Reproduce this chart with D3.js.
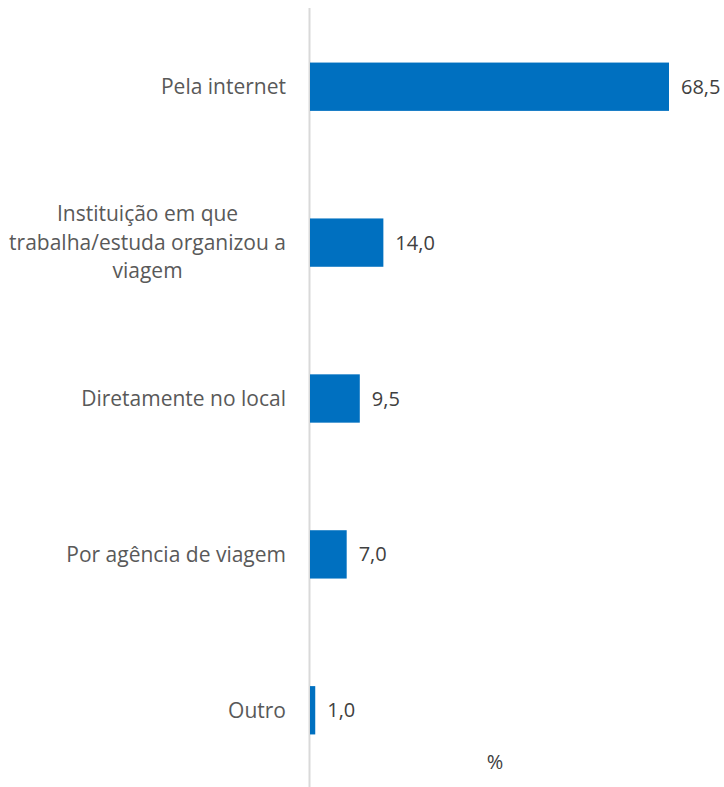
<!DOCTYPE html>
<html lang="en">
<head>
<meta charset="UTF-8">
<title>Bar chart</title>
<style>
    body { margin: 0; background: #fff; }
    .cat { font: 21px "Open Sans", sans-serif; fill: #595959; }
    .val { font: 20px "Open Sans", sans-serif; fill: #404040; }
</style>
</head>
<body>
<script src="https://d3js.org/d3.v7.min.js"></script>
<script>
const categories = [
    ["Pela internet"],
    ["Instituição em que", "trabalha/estuda organizou a", "viagem"],
    ["Diretamente no local"],
    ["Por agência de viagem"],
    ["Outro"]
];
const values = [68.5, 14.0, 9.5, 7.0, 1.0];
const unitLabel = "%";

const width = 724, height = 787;
const x0 = 310;

const svg = d3.select("body").append("svg")
    .attr("width", width)
    .attr("height", height);

const x = d3.scaleLinear()
    .domain([0, 68.5])
    .range([x0, 669]);

const y = d3.scaleBand()
    .domain(d3.range(values.length))
    .range([8, 789])
    .paddingInner(0.69)
    .paddingOuter(0.35);

// axis line
svg.append("line")
    .attr("x1", x0 - 0.5).attr("x2", x0 - 0.5)
    .attr("y1", 8).attr("y2", height)
    .attr("stroke", "#d9d9d9")
    .attr("stroke-width", 2);

svg.selectAll("rect.bar")
    .data(values)
    .join("rect")
    .attr("class", "bar")
    .attr("x", x0)
    .attr("y", (d, i) => y(i))
    .attr("width", d => x(d) - x0)
    .attr("height", y.bandwidth())
    .attr("fill", "#0070c0");

svg.selectAll("text.val")
    .data(values)
    .join("text")
    .attr("class", "val")
    .attr("x", d => x(d) + 12)
    .attr("y", (d, i) => y(i) + y.bandwidth() / 2)
    .attr("dy", "0.35em")
    .text(d => d3.format(".1f")(d).replace(".", ","));

const lineH = 28.5;
const cat = svg.selectAll("text.cat")
    .data(categories)
    .join("text")
    .attr("class", "cat")
    .attr("text-anchor", "middle")
    .attr("y", (d, i) => y(i) + y.bandwidth() / 2);

cat.each(function (lines) {
    const t = d3.select(this);
    const n = lines.length;
    lines.forEach((l, k) => {
        t.append("tspan")
            .attr("x", 0)
            .attr("dy", k === 0 ? (0.35 - (n - 1) / 2 * lineH / 21) + "em" : lineH + "px")
            .text(l);
    });
    // right-align the block at x=286, lines centred within it
    const w = this.getBBox().width;
    t.selectAll("tspan").attr("x", 286 - w / 2);
});

svg.append("text")
    .attr("class", "val")
    .attr("x", 495)
    .attr("y", 762)
    .attr("text-anchor", "middle")
    .attr("dy", "0.35em")
    .text(unitLabel);
</script>
</body>
</html>
